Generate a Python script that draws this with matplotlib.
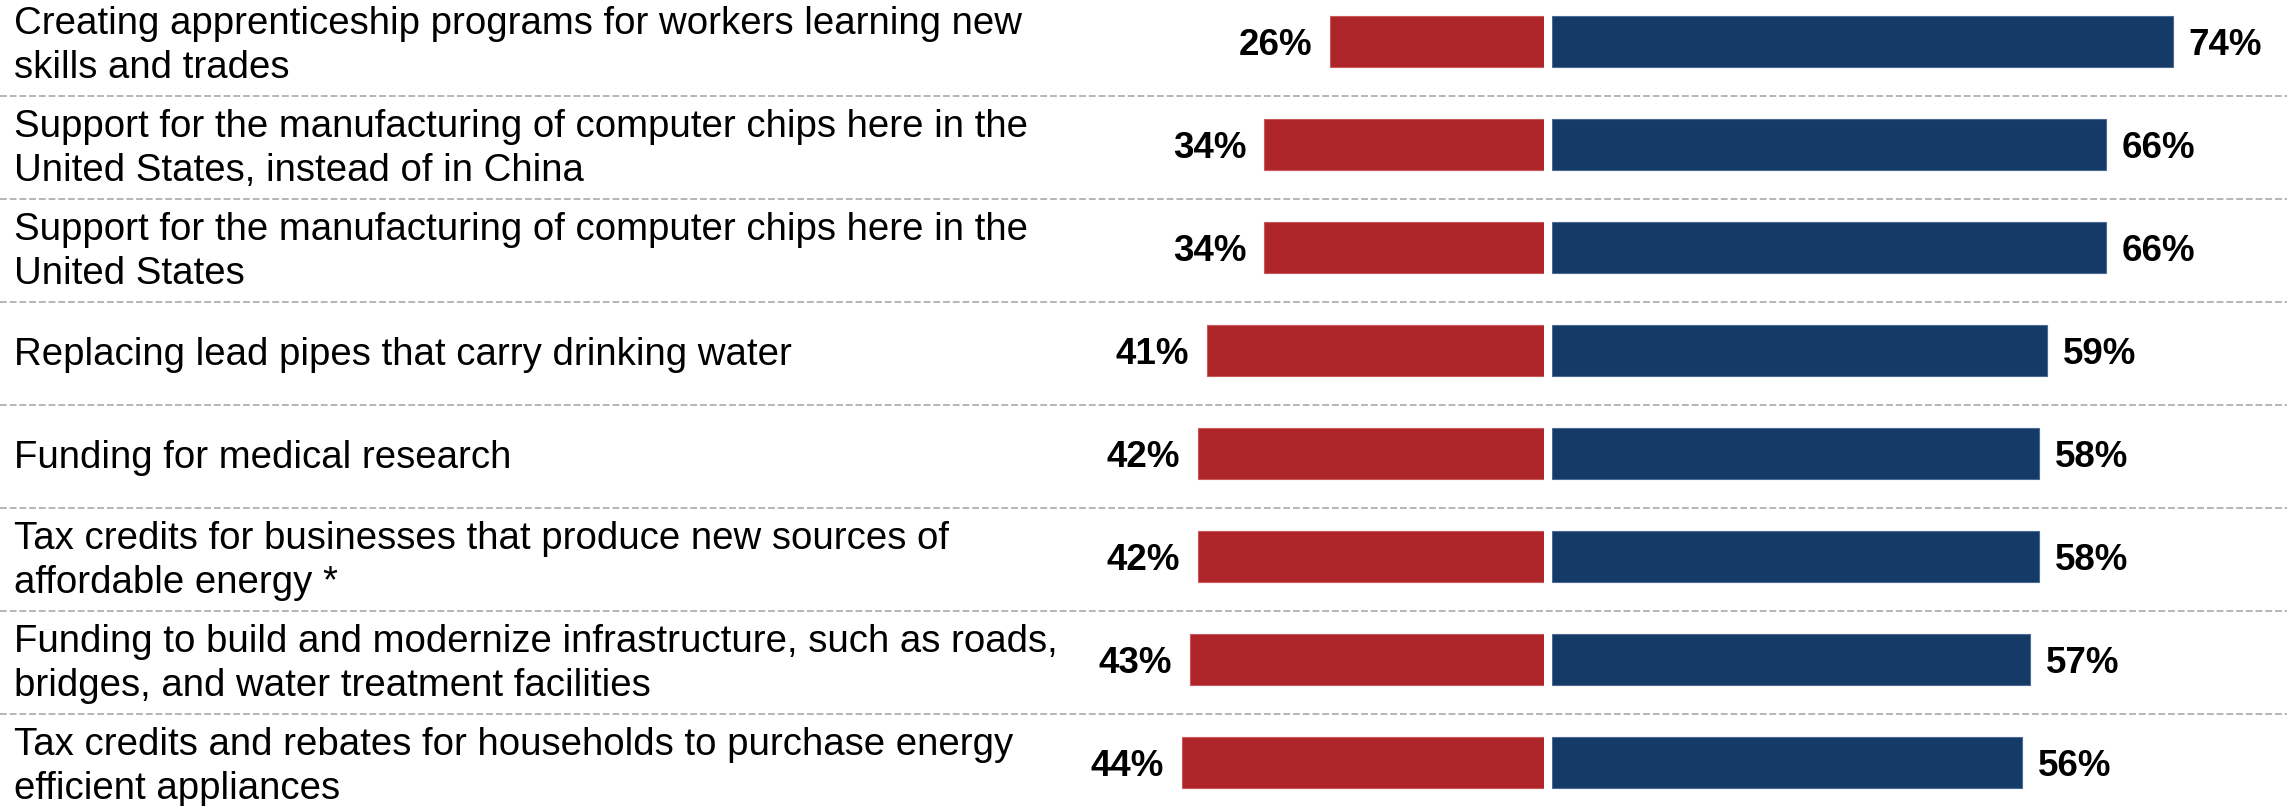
import matplotlib
matplotlib.use("Agg")
import matplotlib.pyplot as plt

# Survey items (top to bottom) and the split of responses
items = [
    "Creating apprenticeship programs for workers learning new\nskills and trades",
    "Support for the manufacturing of computer chips here in the\nUnited States, instead of in China",
    "Support for the manufacturing of computer chips here in the\nUnited States",
    "Replacing lead pipes that carry drinking water",
    "Funding for medical research",
    "Tax credits for businesses that produce new sources of\naffordable energy *",
    "Funding to build and modernize infrastructure, such as roads,\nbridges, and water treatment facilities",
    "Tax credits and rebates for households to purchase energy\nefficient appliances",
]
red_values = [26, 34, 34, 41, 42, 42, 43, 44]
blue_values = [74, 66, 66, 59, 58, 58, 57, 56]

RED = "#ae2529"
BLUE = "#143a68"
W, H = 2287, 806
DPI = 100

plt.rcParams["font.family"] = ["Liberation Sans", "DejaVu Sans"]

fig = plt.figure(figsize=(W / DPI, H / DPI), dpi=DPI)
fig.patch.set_facecolor("white")

n = len(items)
row_px = 103.0
top_px = 41.7
ylim = ((H - top_px) / row_px, -top_px / row_px)
ys = list(range(n))

# Background layer for labels and separators (x in pixels)
bg = fig.add_axes([0, 0, 1, 1])
bg.set_xlim(0, W)
bg.set_ylim(*ylim)
bg.axis("off")

for i in range(n - 1):
    bg.axhline(i + 0.525, color="#b5b5b5", lw=1.4,
               linestyle=(0, (3.5, 1.5)), zorder=0)

for y, lab in zip(ys, items):
    bg.text(14, y + 0.04, lab, ha="left", va="center", fontsize=27.6,
            color="black", linespacing=1.28)

# Left panel: red bars growing leftwards
red_right = 1543.7
red_scale = 8.22
axr = fig.add_axes([0, 0, red_right / W, 1])
axr.set_xlim(red_right / red_scale, 0)
axr.set_ylim(*ylim)
axr.axis("off")
axr.patch.set_alpha(0)
axr.barh(ys, red_values, height=0.5, color=RED, edgecolor="#c9585b",
         linewidth=0.8)
for y, v in zip(ys, red_values):
    axr.text(v + 18 / red_scale, y + 0.04, f"{v}%", ha="right", va="center",
             fontsize=26.5, fontweight="bold", color="black")

# Right panel: blue bars growing rightwards
blue_left = 1552.0
blue_scale = 8.39
axb = fig.add_axes([blue_left / W, 0, (W - blue_left) / W, 1])
axb.set_xlim(0, (W - blue_left) / blue_scale)
axb.set_ylim(*ylim)
axb.axis("off")
axb.patch.set_alpha(0)
axb.barh(ys, blue_values, height=0.5, color=BLUE, edgecolor="#4a6a92",
         linewidth=0.8)
for y, v in zip(ys, blue_values):
    axb.text(v + 16 / blue_scale, y + 0.04, f"{v}%", ha="left", va="center",
             fontsize=26.5, fontweight="bold", color="black")

fig.savefig("out.png", dpi=DPI, facecolor="white")
